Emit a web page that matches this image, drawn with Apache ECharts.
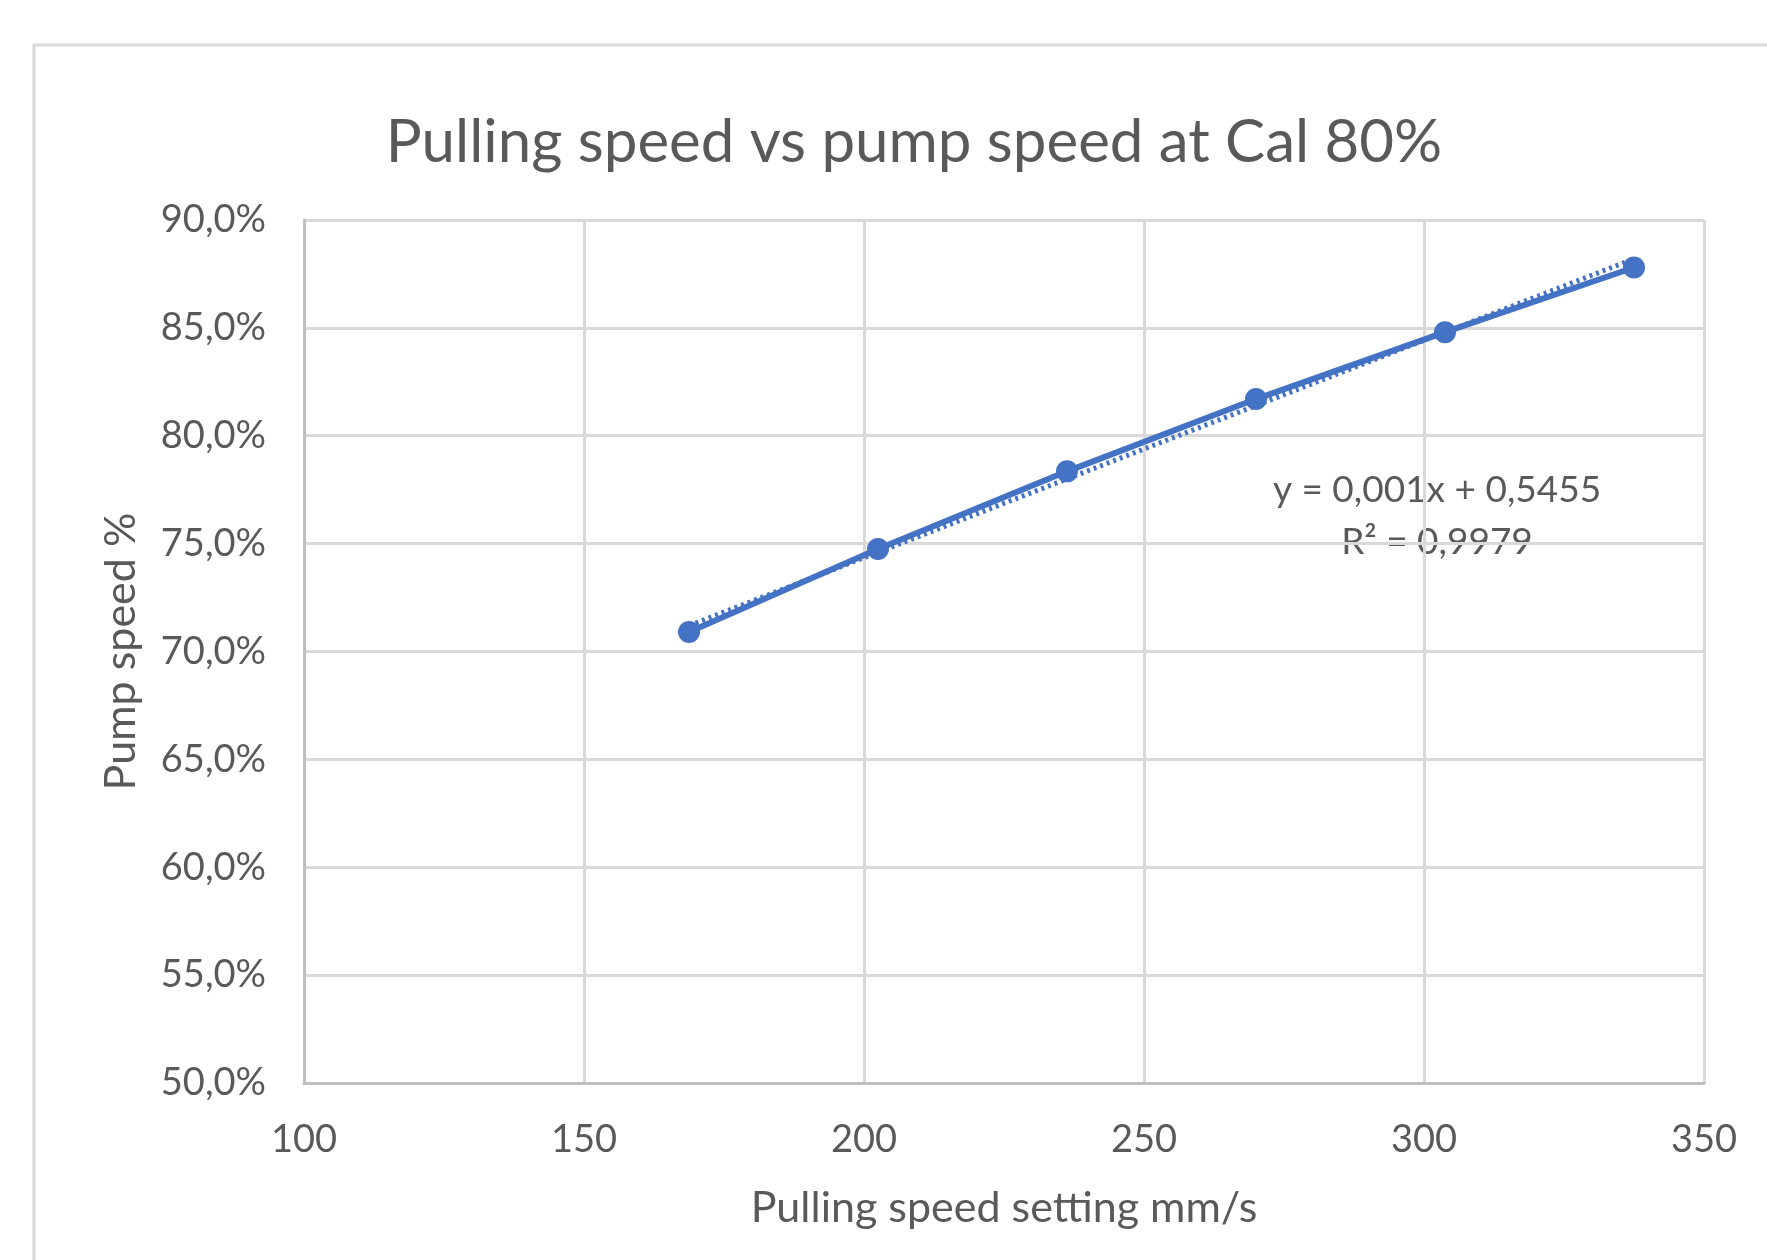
<!DOCTYPE html>
<html>
<head>
<meta charset="utf-8">
<script src="https://cdn.jsdelivr.net/npm/echarts@6/dist/echarts.min.js"></script>
<style>
html,body{margin:0;padding:0;background:#fff;}
#chart{width:1767px;height:1260px;}
</style>
</head>
<body>
<div id="chart"></div>
<script>
// Data
var pullingSpeed = [168.75, 202.5, 236.25, 270, 303.75, 337.5];
var pumpSpeed = [0.709, 0.7475, 0.7835, 0.817, 0.848, 0.878];
var trendX = [168.75, 337.5];
var trendY = [0.712, 0.882];
var xTicks = [100, 150, 200, 250, 300, 350];
var yTicks = [0.5, 0.55, 0.6, 0.65, 0.7, 0.75, 0.8, 0.85, 0.9];
var titleText = 'Pulling speed vs pump speed at Cal 80%';
var xName = 'Pulling speed setting mm/s';
var yName = 'Pump speed %';
var eqText = 'y = 0,001x + 0,5455';
var r2Text = 'R\u00B2 = 0,9979';

var FONT = 'Lato';
var TXT = '#595959';
var BLUE = '#4472C4';

var chart = echarts.init(document.getElementById('chart'), null, {renderer: 'canvas'});
var seriesData = pullingSpeed.map(function (x, i) { return [x, pumpSpeed[i]]; });
var trendData = trendX.map(function (x, i) { return [x, trendY[i]]; });

chart.setOption({
  animation: false,
  backgroundColor: '#fff',
  title: {
    text: titleText,
    left: 909, top: 108, textAlign: 'center',
    textStyle: {fontFamily: FONT, fontSize: 60, fontWeight: 'normal', color: TXT}
  },
  grid: {left: 304, right: 63, top: 220, bottom: 177, containLabel: false},
  xAxis: {
    type: 'value', min: xTicks[0], max: xTicks[xTicks.length - 1], interval: 50,
    name: xName, nameLocation: 'middle', nameGap: 104,
    nameTextStyle: {fontFamily: FONT, fontSize: 43, color: TXT},
    axisLine: {show: true, lineStyle: {color: '#BFBFBF', width: 3}},
    axisTick: {show: false},
    axisLabel: {fontFamily: FONT, fontSize: 38, color: TXT, margin: 38},
    splitLine: {show: true, lineStyle: {color: '#D9D9D9', width: 3}}
  },
  yAxis: {
    type: 'value', min: yTicks[0], max: yTicks[yTicks.length - 1], interval: 0.05,
    name: yName, nameLocation: 'middle', nameGap: 161, nameRotate: 90,
    nameTextStyle: {fontFamily: FONT, fontSize: 43, color: TXT},
    axisLine: {show: true, lineStyle: {color: '#BFBFBF', width: 3}},
    axisTick: {show: false},
    axisLabel: {
      fontFamily: FONT, fontSize: 38, color: TXT, margin: 38,
      formatter: function (v) { return (v * 100).toFixed(1).replace('.', ',') + '%'; }
    },
    splitLine: {show: true, lineStyle: {color: '#D9D9D9', width: 3}}
  },
  graphic: [
    {type: 'rect', shape: {x: 34, y: 45, width: 1800, height: 1300},
     style: {fill: null, stroke: '#D9D9D9', lineWidth: 3}, silent: true, z: -10},
    {type: 'text', x: 1437, y: 490, style: {text: eqText, x: 0, y: 0, align: 'center', verticalAlign: 'middle',
      textAlign: 'center', textVerticalAlign: 'middle', fontFamily: FONT, fontSize: 37, fill: TXT}},
    {type: 'text', x: 1437, y: 542, style: {text: r2Text, x: 0, y: 0, align: 'center', verticalAlign: 'middle',
      textAlign: 'center', textVerticalAlign: 'middle', fontFamily: FONT, fontSize: 37, fill: TXT}}
  ],
  series: [
    {
      type: 'line', data: seriesData, symbol: 'circle', symbolSize: 22,
      lineStyle: {color: BLUE, width: 6}, itemStyle: {color: BLUE}, z: 3
    },
    {
      type: 'line', data: trendData, symbol: 'none',
      lineStyle: {color: BLUE, width: 5, type: [3, 4]}, z: 4
    }
  ]
});
</script>
</body>
</html>
